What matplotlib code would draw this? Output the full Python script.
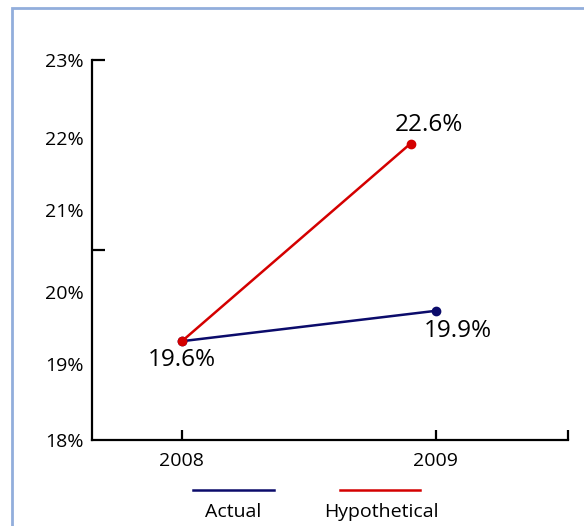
import matplotlib.pyplot as plt
from matplotlib.lines import Line2D
from matplotlib.patches import Rectangle

plt.rcParams['font.family'] = ['Open Sans', 'DejaVu Sans']

# values as drawn on the chart, and the labels printed beside them
years_actual = [2008, 2009]
actual = [19.3, 19.7]
actual_labels = ['19.6%', '19.9%']

years_hypo = [2008, 2008.9]
hypothetical = [19.3, 21.9]
hypo_labels = ['', '22.6%']

# tick labels sit slightly unevenly in the original
ytick_pos = [18, 19.0, 19.95, 21.03, 21.97, 23]
ytick_labels = ['18%', '19%', '20%', '21%', '22%', '23%']
xtick_vals = [2008, 2009]

navy = '#0b0b6b'
red = '#d40000'

fig = plt.figure(figsize=(5.84, 5.26), dpi=100)
ax = fig.add_axes([92/584, 86/526, 476/584, 380/526])

ax.plot(years_actual, actual, color=navy, lw=1.8, marker='o', ms=6, clip_on=False)
ax.plot(years_hypo, hypothetical, color=red, lw=1.8, marker='o', ms=6, clip_on=False)

ax.annotate(actual_labels[0], (years_actual[0], actual[0]), xytext=(0, -5),
            textcoords='offset points', ha='center', va='top', fontsize=17.5)
ax.annotate(actual_labels[1], (years_actual[1], actual[1]), xytext=(16, -6),
            textcoords='offset points', ha='center', va='top', fontsize=17.5)
ax.annotate(hypo_labels[1], (years_hypo[1], hypothetical[1]), xytext=(13, 5),
            textcoords='offset points', ha='center', va='bottom', fontsize=17.5)

ax.set_xlim(2007.646, 2009.52)
ax.set_ylim(18, 23)

for s in ['top', 'right']:
    ax.spines[s].set_visible(False)
for s in ['left', 'bottom']:
    ax.spines[s].set_linewidth(1.6)

ax.set_yticks(ytick_pos)
ax.set_yticklabels(ytick_labels)
ax.set_yticks([20.5, 23], minor=True)
ax.yaxis.remove_overlapping_locs = False
ax.tick_params(axis='y', which='major', length=0, pad=6, labelsize=14)
ax.tick_params(axis='y', which='minor', direction='in', length=9, width=1.6)

ax.set_xticks(xtick_vals)
ax.set_xticklabels([str(v) for v in xtick_vals])
ax.set_xticks([2009.52], minor=True)
ax.tick_params(axis='x', which='both', direction='in', length=7.5, width=1.6)
ax.tick_params(axis='x', which='major', pad=9, labelsize=14)

# legend drawn underneath the axis
fig.add_artist(Line2D([193/584, 274/584], [1 - 490/526] * 2, color=navy, lw=1.8))
fig.add_artist(Line2D([340/584, 420/584], [1 - 490/526] * 2, color=red, lw=1.8))
fig.text(233/584, 1 - 512/526, 'Actual', ha='center', va='center', fontsize=14)
fig.text(381/584, 1 - 512/526, 'Hypothetical', ha='center', va='center', fontsize=14)

# light frame running off the page
fig.add_artist(Rectangle((12/584, -0.2), 1.2, 1.2 - 8/526,
                         transform=fig.transFigure, fill=False,
                         edgecolor='#92aedc', lw=2))

fig.savefig('out.png', dpi=100)
